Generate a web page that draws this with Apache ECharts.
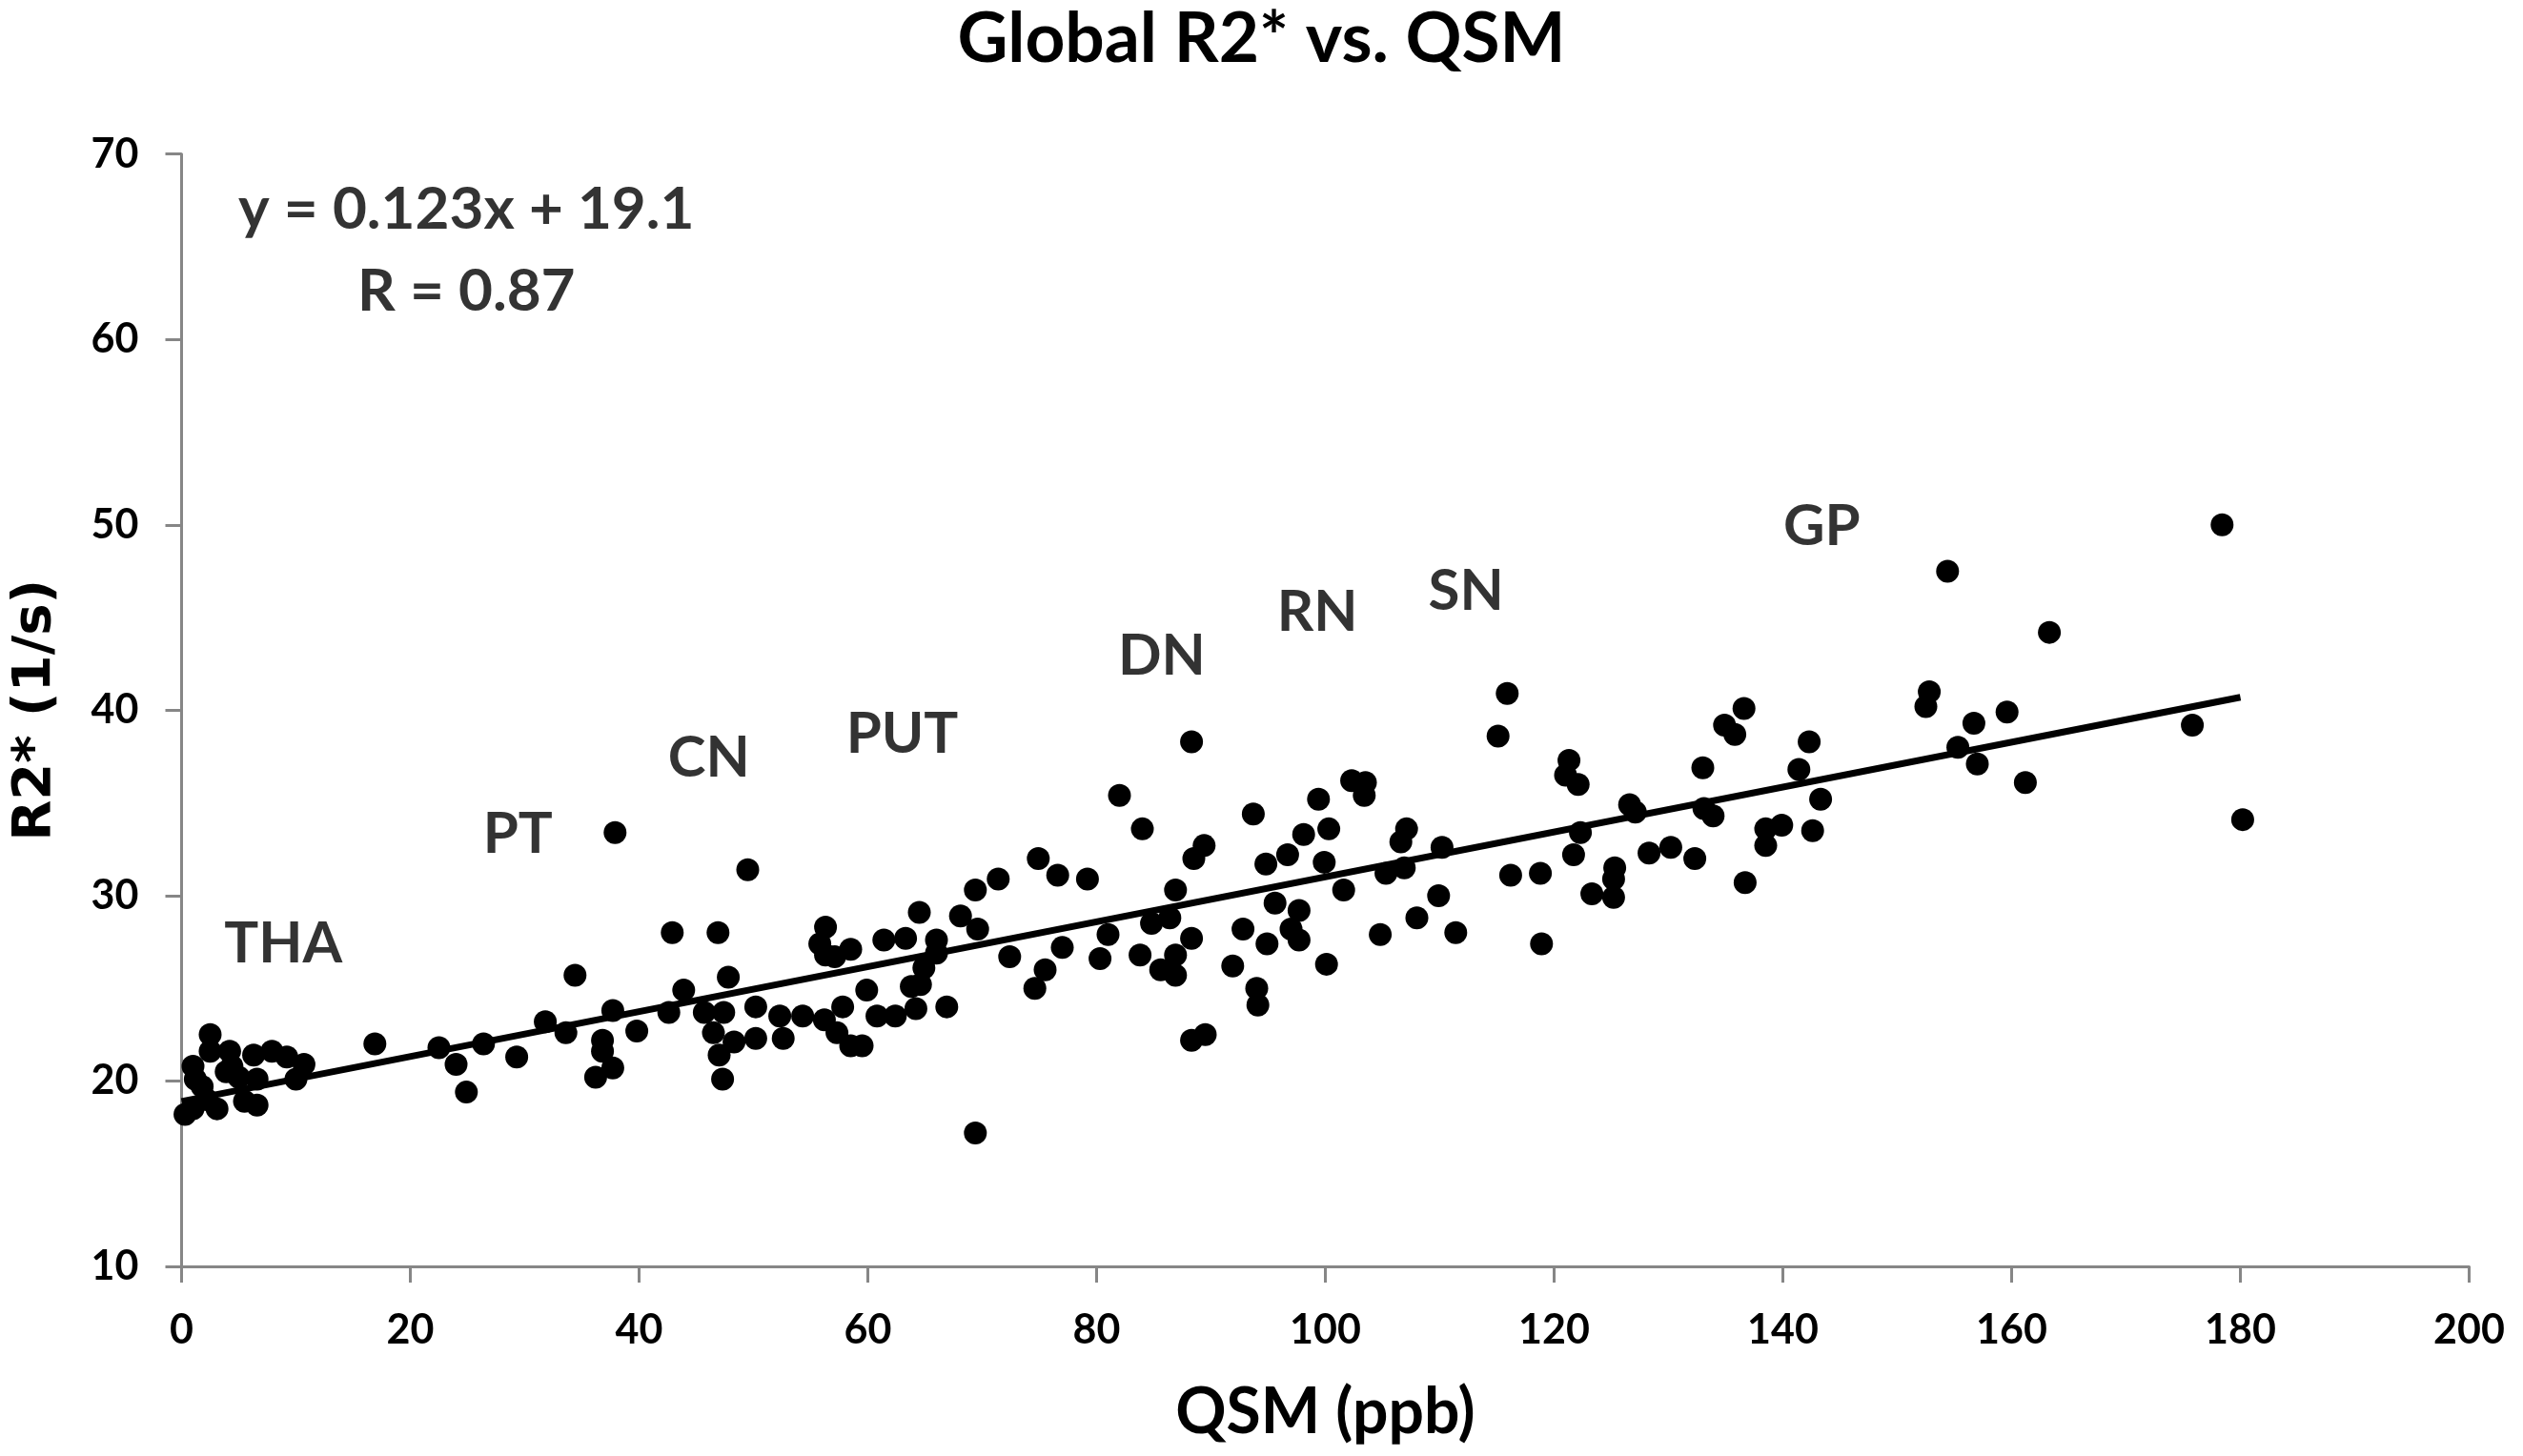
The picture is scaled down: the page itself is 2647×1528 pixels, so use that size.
<!DOCTYPE html>
<html>
<head>
<meta charset="utf-8">
<title>Global R2* vs. QSM</title>
<script src="https://cdn.jsdelivr.net/npm/echarts@6/dist/echarts.min.js"></script>
<style>
  html, body { margin: 0; padding: 0; background: #fff; }
  #chart { width: 2647px; height: 1528px; }
</style>
</head>
<body>
<div id="chart"></div>
<script>
// QSM (ppb) and R2* (1/s) for each region sample
var qsm = [
  0.3, 1.0, 1.0, 1.2, 2.5, 2.5, 1.8, 2.2, 3.1, 4.2, 4.4, 5.0, 5.5, 6.3, 6.6, 6.6, 7.9, 9.2, 10.7, 10.0, 3.9,
  16.9, 22.5, 24.0, 24.9, 26.4, 29.3, 31.8, 33.6, 34.4, 36.8, 36.8, 36.2, 37.7, 37.7, 37.9, 39.8, 42.6, 42.9,
  43.9, 45.7, 46.5, 46.9, 47.0, 47.3, 47.4, 47.8, 48.3, 49.5, 50.2, 50.2, 52.3, 52.6, 54.3,
  55.8, 56.2, 56.3, 56.3, 57.1, 57.3, 57.8, 58.5, 58.5, 59.5, 59.9, 60.8, 61.4, 62.4, 63.3, 63.8, 64.2, 64.5,
  64.6, 64.9, 66.0, 66.0, 66.9, 68.1, 69.4, 69.4, 69.6, 71.4, 72.4, 74.6, 74.9, 75.5, 76.6, 77.0, 79.2, 80.3,
  81.0, 82.0, 83.8, 84.0, 84.8, 85.6, 86.4, 86.9, 86.9, 86.9, 88.3, 88.3, 88.3, 88.5, 89.4, 89.5, 91.9, 92.8,
  93.7, 94.0, 94.1, 94.8, 94.9, 95.6,
  96.7, 97.7, 97.0, 97.7, 98.1, 99.4, 100.3, 99.9, 100.1, 101.6, 102.3, 103.5, 103.4, 104.8, 105.3, 106.6,
  107.1, 106.9, 108.0, 109.9, 110.2, 111.4, 115.1, 115.9, 116.2, 118.8, 118.9,
  121.0, 121.3, 122.1, 121.7, 122.3, 123.3, 125.2, 125.2, 125.3, 126.6, 127.1, 128.3, 130.2, 132.3, 133.0,
  133.1, 133.9, 134.9, 135.8, 136.6, 136.7, 138.5, 138.5, 139.9, 141.4, 142.3, 142.6, 143.3,
  152.5, 152.8, 154.4, 155.3, 156.7, 157.0, 159.6, 161.2, 163.3, 175.8, 178.4, 180.2
];
var r2star = [
  18.2, 18.5, 20.8, 20.1, 22.5, 21.6, 19.7, 19.0, 18.5, 21.6, 20.8, 20.2, 18.9, 21.4, 20.1, 18.7, 21.6, 21.3, 20.9, 20.1, 20.5,
  22.0, 21.8, 20.9, 19.4, 22.0, 21.3, 23.2, 22.6, 25.7, 22.2, 21.6, 20.2, 20.7, 23.8, 33.4, 22.7, 23.7, 28.0,
  24.9, 23.7, 22.6, 28.0, 21.4, 20.1, 23.7, 25.6, 22.1, 31.4, 24.0, 22.3, 23.5, 22.3, 23.5,
  27.4, 23.3, 28.3, 26.8, 26.7, 22.6, 24.0, 21.9, 27.1, 21.9, 24.9, 23.5, 27.6, 23.5, 27.7, 25.1, 23.9, 29.1,
  25.2, 26.1, 27.6, 26.9, 24.0, 28.9, 30.3, 17.2, 28.2, 30.9, 26.7, 25.0, 32.0, 26.0, 31.1, 27.2, 30.9, 26.6,
  27.9, 35.4, 26.8, 33.6, 28.5, 26.0, 28.8, 25.7, 26.8, 30.3, 27.7, 38.3, 22.2, 32.0, 32.7, 22.5, 26.2, 28.2,
  34.4, 25.0, 24.1, 31.7, 27.4, 29.6,
  32.2, 29.2, 28.2, 27.6, 33.3, 35.2, 33.6, 31.8, 26.3, 30.3, 36.2, 36.1, 35.4, 27.9, 31.2, 32.9,
  33.6, 31.5, 28.8, 30.0, 32.6, 28.0, 38.6, 40.9, 31.1, 31.2, 27.4,
  36.5, 37.3, 36.0, 32.2, 33.4, 30.1, 29.9, 30.9, 31.5, 34.9, 34.5, 32.3, 32.6, 32.0, 36.9,
  34.7, 34.3, 39.2, 38.7, 40.1, 30.7, 32.7, 33.6, 33.8, 36.8, 38.3, 33.5, 35.2,
  40.2, 41.0, 47.5, 38.0, 39.3, 37.1, 39.9, 36.1, 44.2, 39.2, 50.0, 34.1
];

// drawn regression line, end points
var fitX = [0, 180];
var fitY = [18.9, 40.7];

// region labels and where they sit
var regionNames = ['THA', 'PT', 'CN', 'PUT', 'DN', 'RN', 'SN', 'GP'];
var regionX = [8.9, 29.4, 46.1, 63.0, 85.7, 99.3, 112.3, 143.4];
var regionY = [27.4, 33.3, 37.4, 38.7, 42.9, 45.3, 46.4, 49.9];

var noteText = ['y = 0.123x + 19.1', 'R = 0.87'];
var noteX = [24.9, 24.9];
var noteY = [67.0, 62.6];

var xTicks = [0, 200, 20];
var yTicks = [10, 70, 10];

var chart = echarts.init(document.getElementById('chart'));

var points = qsm.map(function (q, i) { return [q, r2star[i]]; });
var fitLine = fitX.map(function (x, i) { return [x, fitY[i]]; });
var regions = regionNames.map(function (n, i) { return [regionX[i], regionY[i], n]; });
var notes = noteText.map(function (t, i) { return [noteX[i], noteY[i], t]; });

var axisGrey = '#868686';
var tickFont = { fontFamily: 'Lato', fontWeight: 'bold', fontSize: 43, color: '#000' };

chart.setOption({
  animation: false,
  backgroundColor: '#fff',
  title: {
    text: 'Global R2* vs. QSM',
    left: 'center',
    top: 0,
    textStyle: { fontFamily: 'Lato', fontWeight: 'bold', fontSize: 73, color: '#000' }
  },
  grid: { left: 190.5, right: 56.5, top: 161.7, bottom: 199 },
  xAxis: {
    type: 'value',
    min: xTicks[0], max: xTicks[1], interval: xTicks[2],
    name: 'QSM (ppb)',
    nameLocation: 'middle',
    nameGap: 121,
    nameTextStyle: { fontFamily: 'Lato', fontWeight: 'bold', fontSize: 66, color: '#000' },
    axisLine: { lineStyle: { color: axisGrey, width: 3 } },
    axisTick: { show: true, length: 17, lineStyle: { color: axisGrey, width: 3 } },
    axisLabel: Object.assign({ margin: 46 }, tickFont),
    splitLine: { show: false }
  },
  yAxis: {
    type: 'value',
    min: yTicks[0], max: yTicks[1], interval: yTicks[2],
    name: 'R2* (1/s)',
    nameLocation: 'middle',
    nameGap: 125,
    nameTextStyle: { fontFamily: 'DejaVu Sans', fontWeight: 'bold', fontSize: 56, color: '#000' },
    axisLine: { show: true, lineStyle: { color: axisGrey, width: 3 } },
    axisTick: { show: true, length: 17, lineStyle: { color: axisGrey, width: 3 } },
    axisLabel: Object.assign({ margin: 45 }, tickFont),
    splitLine: { show: false }
  },
  series: [
    {
      name: 'fit',
      type: 'line',
      data: fitLine,
      symbol: 'none',
      lineStyle: { color: '#000', width: 7 },
      z: 2
    },
    {
      name: 'regions',
      type: 'scatter',
      data: points,
      symbol: 'circle',
      symbolSize: 24,
      itemStyle: { color: '#000', opacity: 1 },
      z: 3
    },
    {
      name: 'labels',
      type: 'scatter',
      data: regions,
      symbolSize: 0,
      silent: true,
      label: {
        show: true,
        position: 'inside',
        formatter: function (p) { return p.data[2]; },
        fontFamily: 'Lato', fontWeight: 'bold', fontSize: 60, color: '#000'
      },
      z: 4
    },
    {
      name: 'notes',
      type: 'scatter',
      data: notes,
      symbolSize: 0,
      silent: true,
      label: {
        show: true,
        position: 'inside',
        formatter: function (p) { return p.data[2]; },
        fontFamily: 'Lato', fontWeight: 'bold', fontSize: 62, color: '#000'
      },
      z: 4
    }
  ]
});
</script>
</body>
</html>
